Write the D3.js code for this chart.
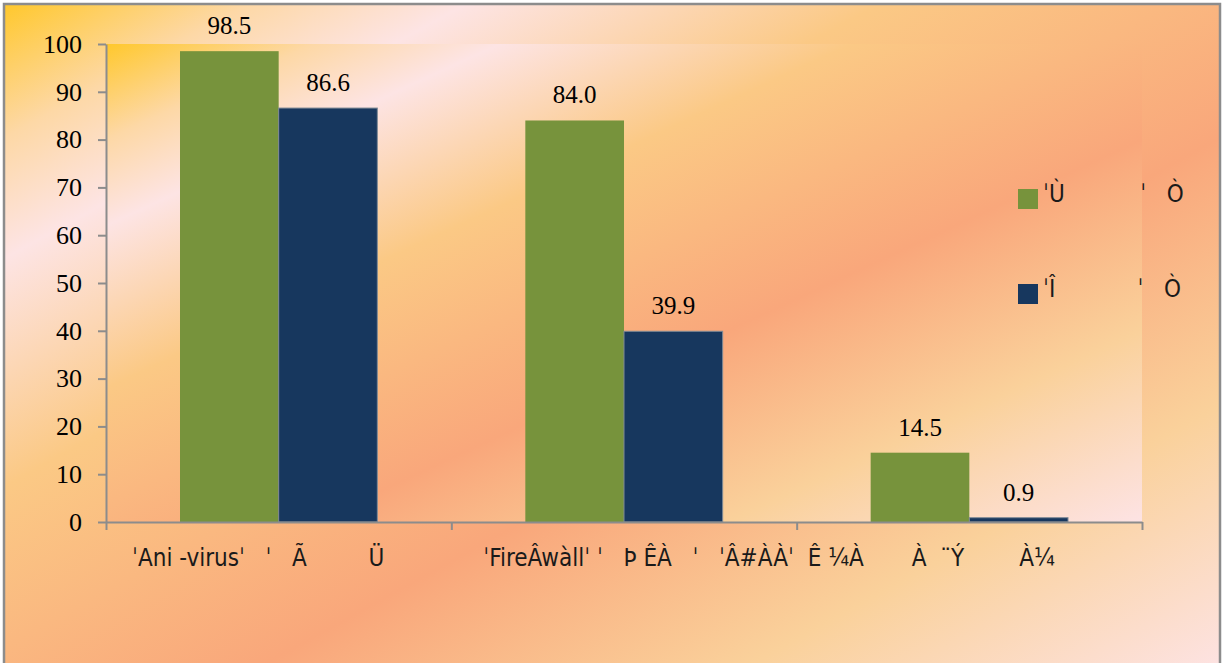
<!DOCTYPE html>
<html><head><meta charset="utf-8">
<script src="https://cdn.jsdelivr.net/npm/d3@7"></script>
<style>html,body{margin:0;padding:0;background:#fff;overflow:hidden}
.serif{font-family:"Liberation Serif","Times New Roman",Times,serif}
.sans{font-family:"DejaVu Sans Condensed","DejaVu Sans",sans-serif;font-stretch:condensed}
</style>
</head><body>
<script>
// ---- data ----
const categories = ["ˈAni -virusˈ   ˈ   Ã         Ü", "ˈFireÂwàllˈ ˈ   Þ ÊÀ   ˈ   ˈÂ#ÀÀˈ", "Ê ¼À       À  ¨Ý        À¼"];
const seriesNames = ["ˈÙ           ˈ   Ò", "ˈÎ            ˈ   Ò"];
const series1 = [98.5, 84.0, 14.5];
const series2 = [86.6, 39.9, 0.9];
const yTicks = [0, 10, 20, 30, 40, 50, 60, 70, 80, 90, 100];
const seriesColors = ["#77933C", "#17375E"];

// ---- layout ----
const W = 1223, H = 663;
const L = 106, R = 1142, T = 44, B = 522;
const axisColor = "#8c8c8c";

const svg = d3.select("body").append("svg").attr("width", W).attr("height", H);
const defs = svg.append("defs");
function grad(id) {
  const g = defs.append("linearGradient").attr("id", id)
    .attr("x1", 0).attr("y1", 0).attr("x2", 1).attr("y2", 1);
  [[0, "#ffc82c"], [0.1, "#fdd8a6"], [0.19, "#fde4e4"], [0.36, "#fbc985"],
   [0.6, "#f9a77b"], [0.8, "#fad19b"], [1, "#fde3e4"]]
    .forEach(([o, c]) => g.append("stop").attr("offset", o).attr("stop-color", c));
}
grad("bgGrad"); grad("plotGrad");

svg.append("rect").attr("x", 4).attr("y", 4).attr("width", 1216).attr("height", 670)
  .attr("fill", "url(#bgGrad)").attr("stroke", axisColor).attr("stroke-width", 2.5);
svg.append("rect").attr("x", L).attr("y", T).attr("width", R - L).attr("height", B - T)
  .attr("fill", "url(#plotGrad)");

// ---- scales ----
const y = d3.scaleLinear().domain([0, 100]).range([B, T]);
const x0 = d3.scaleBand().domain(d3.range(categories.length)).range([L, R]);
const bw = x0.bandwidth();
const barW = bw / 3.5;
const x1 = d3.scaleBand().domain([0, 1]).range([bw / 2 - barW, bw / 2 + barW]);
const xb = d3.scaleLinear().domain([0, categories.length]).range([L, R]);

// ---- bars ----
const allSeries = [series1, series2];
allSeries.forEach((vals, si) => {
  const g = svg.append("g");
  g.selectAll("rect").data(vals).join("rect")
    .attr("x", (d, i) => x0(i) + x1(si))
    .attr("y", d => y(d))
    .attr("width", x1.bandwidth())
    .attr("height", d => y(0) - y(d))
    .attr("fill", seriesColors[si])
    .attr("stroke", si === 1 ? "#7f8a96" : "none").attr("stroke-width", 1);
  g.selectAll("text").data(vals).join("text")
    .attr("class", "serif")
    .attr("x", (d, i) => x0(i) + x1(si) + x1.bandwidth() / 2)
    .attr("y", d => y(d) - 17)
    .attr("text-anchor", "middle")
    .style("font-size", "25px").attr("fill", "#000")
    .text(d => d.toFixed(1));
});

// ---- axes ----
const yAxis = d3.axisLeft(y).tickValues(yTicks).tickSize(8).tickPadding(16).tickSizeOuter(0);
const gy = svg.append("g").attr("transform", `translate(${L},0)`).call(yAxis);
gy.attr("font-family", null).attr("font-size", null);
gy.selectAll("text").attr("class", "serif").style("font-size", "26px").attr("fill", "#000");

const xAxis = d3.axisBottom(xb).tickValues(d3.range(categories.length + 1)).tickFormat("").tickSize(8).tickSizeOuter(0);
const gx = svg.append("g").attr("transform", `translate(0,${B})`).call(xAxis);

[gy, gx].forEach(g => {
  g.selectAll("line").attr("stroke", axisColor).attr("stroke-width", 2);
  g.select(".domain").attr("stroke", axisColor).attr("stroke-width", 2);
});

// category labels
const labelShift = [26, 32, 11];
svg.append("g").selectAll("text").data(categories).join("text")
  .attr("class", "sans")
  .attr("x", (d, i) => x0(i) + labelShift[i])
  .attr("y", 566)
  .style("font-size", "24px").attr("fill", "#1a1a1a")
  .style("white-space", "pre").attr("xml:space", "preserve")
  .text(d => d);

// ---- legend ----
const lg = svg.append("g");
seriesNames.forEach((n, i) => {
  const yy = 189 + i * 95;
  lg.append("rect").attr("x", 1018).attr("y", yy).attr("width", 20).attr("height", 20)
    .attr("fill", seriesColors[i]);
  lg.append("text").attr("class", "sans").attr("x", 1043).attr("y", yy + 13)
    .style("font-size", "24px").attr("fill", "#1a1a1a")
    .style("white-space", "pre").attr("xml:space", "preserve")
    .text(n);
});
</script>
</body></html>
